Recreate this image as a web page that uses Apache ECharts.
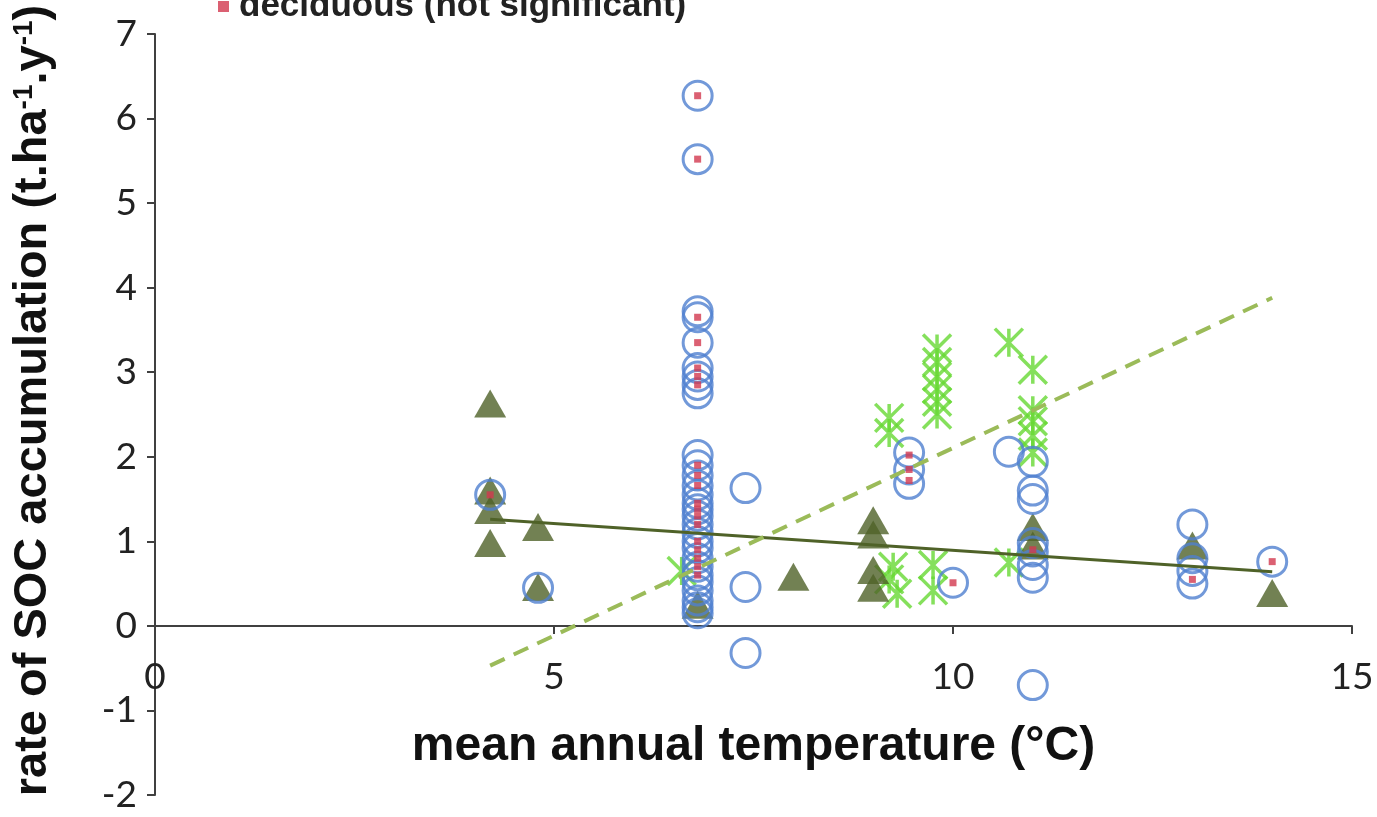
<!DOCTYPE html>
<html>
<head>
<meta charset="utf-8">
<script src="https://cdn.jsdelivr.net/npm/echarts@6/dist/echarts.min.js"></script>
<style>
html,body{margin:0;padding:0;background:#fff;}
#chart{width:1377px;height:817px;}
</style>
</head>
<body>
<div id="chart"></div>
<script>
// ---- data (x = mean annual temperature °C, y = rate of SOC accumulation) ----
var xTicks = [0, 5, 10, 15];
var yTicks = [-2, -1, 0, 1, 2, 3, 4, 5, 6, 7];

var allStands = [
  [4.2,1.55],[4.8,0.45],
  [6.8,6.27],[6.8,5.52],[6.8,3.72],[6.8,3.65],[6.8,3.35],[6.8,3.05],[6.8,2.95],[6.8,2.85],[6.8,2.75],
  [6.8,2.02],[6.8,1.9],[6.8,1.78],[6.8,1.66],[6.8,1.55],[6.8,1.45],[6.8,1.38],[6.8,1.3],[6.8,1.2],
  [6.8,1.1],[6.8,1.0],[6.8,0.92],[6.8,0.8],[6.8,0.7],[6.8,0.6],[6.8,0.52],[6.8,0.42],[6.8,0.3],
  [6.8,0.22],[6.8,0.15],
  [7.4,1.63],[7.4,0.46],[7.4,-0.32],
  [9.45,2.05],[9.45,1.85],[9.45,1.68],
  [10.0,0.51],
  [10.7,2.06],
  [11.0,1.94],[11.0,1.6],[11.0,1.5],[11.0,0.98],[11.0,0.88],[11.0,0.72],[11.0,0.57],[11.0,-0.7],
  [13.0,1.2],[13.0,0.8],[13.0,0.65],[13.0,0.5],
  [14.0,0.76]
];

var deciduous = [
  [4.2,1.55],
  [6.8,6.27],[6.8,5.52],[6.8,3.65],[6.8,3.35],[6.8,3.05],[6.8,2.95],[6.8,2.85],
  [6.8,1.9],[6.8,1.78],[6.8,1.66],[6.8,1.45],[6.8,1.38],[6.8,1.3],[6.8,1.2],[6.8,1.0],
  [6.8,0.9],[6.8,0.8],[6.8,0.7],[6.8,0.6],
  [9.45,2.02],[9.45,1.85],[9.45,1.72],
  [10.0,0.51],[11.0,0.9],[13.0,0.55],[14.0,0.76]
];

var triangles = [
  [4.2,2.63],[4.2,1.6],[4.2,1.37],[4.2,0.98],
  [4.8,1.17],[4.8,0.46],
  [6.8,0.25],[8.0,0.58],
  [9.0,1.25],[9.0,1.08],[9.0,0.66],[9.0,0.45],
  [11.0,1.17],[11.0,0.95],
  [13.0,0.95],[14.0,0.39]
];

var asterisks = [
  [6.6,0.65],
  [9.2,2.46],[9.2,2.28],[9.25,0.7],[9.2,0.55],[9.3,0.38],
  [9.8,3.28],[9.8,3.12],[9.8,2.95],[9.8,2.8],[9.8,2.65],[9.8,2.5],[9.75,0.72],[9.75,0.42],
  [10.7,3.35],[10.7,0.75],
  [11.0,3.03],[11.0,2.55],[11.0,2.42],[11.0,2.25],[11.0,2.05]
];

var trendTriangles = [[4.2,1.26],[14.0,0.64]];
var trendAsterisks = [[4.2,-0.47],[14.0,3.88]];

var legendLabel = 'deciduous (not significant)';

// ---- chart ----
var chart = echarts.init(document.getElementById('chart'), null, {renderer:'canvas'});
var axisColor = '#404040';
var yMin = yTicks[0], yMax = yTicks[yTicks.length-1];
var plotTop = 34, plotBottomPx = 795;
var unitPx = (plotBottomPx - plotTop) / (yMax - yMin);
var zeroPx = plotBottomPx - (0 - yMin) * unitPx;   // pixel row of y = 0 (for the label strip grid)

var option = {
  backgroundColor:'#ffffff',
  animation:false,
  legend:{
    data:[legendLabel], left:213, top:-16, icon:'rect', itemWidth:11, itemHeight:11,
    textStyle:{fontFamily:'Liberation Sans', fontWeight:'bold', fontSize:35, color:'#222', padding:[0,0,0,5]}
  },
  grid:[
    {left:155, right:25, top:plotTop, bottom:817-plotBottomPx, containLabel:false, outerBoundsMode:'none'},
    {left:155, right:25, top:plotTop, bottom:817-zeroPx, containLabel:false, outerBoundsMode:'none'}
  ],
  xAxis:[
    {
      gridIndex:0, type:'value', min:xTicks[0], max:xTicks[xTicks.length-1], interval:xTicks[1]-xTicks[0],
      axisLine:{show:false}, axisTick:{show:false}, axisLabel:{show:false}, splitLine:{show:false}
    },
    {
      gridIndex:1, type:'value', min:xTicks[0], max:xTicks[xTicks.length-1], interval:xTicks[1]-xTicks[0],
      axisLine:{show:true, onZero:false, lineStyle:{color:axisColor, width:2}},
      axisTick:{show:true, length:8, lineStyle:{color:axisColor, width:2}},
      axisLabel:{margin:33, fontFamily:'Lato', fontSize:37, color:'#222', showMinLabel:true, showMaxLabel:true},
      splitLine:{show:false},
      name:'mean annual temperature (°C)', nameLocation:'middle', nameGap:97,
      nameTextStyle:{fontFamily:'Liberation Sans', fontWeight:'bold', fontSize:48, color:'#111'}
    }
  ],
  yAxis:[
    {
      gridIndex:0, type:'value', min:yMin, max:yMax, interval:1,
      axisLine:{show:true, onZero:false, lineStyle:{color:axisColor, width:2}},
      axisTick:{show:true, length:8, lineStyle:{color:axisColor, width:2}},
      axisLabel:{margin:18, fontFamily:'Lato', fontSize:37, color:'#222'},
      splitLine:{show:false},
      name:'rate of SOC accumulation (t.ha{sup|-1}.y{sup|-1})', nameLocation:'middle', nameGap:98, nameRotate:90,
      nameTextStyle:{fontFamily:'Liberation Sans', fontWeight:'bold', fontSize:47, color:'#111', padding:[0,0,0,28],
        rich:{sup:{fontFamily:'Liberation Sans', fontWeight:'bold', fontSize:28, color:'#111', verticalAlign:'top'}}}
    },
    {
      gridIndex:1, type:'value', min:0, max:yMax, show:false
    }
  ],
  series:[
    {
      name:'asterisks', type:'scatter', data:asterisks, z:2,
      symbol:'path://M0,0L20,20M20,0L0,20M10,0L10,20', symbolSize:28,
      itemStyle:{color:'rgba(0,0,0,0)', borderColor:'#66d833', borderWidth:3.5}
    },
    {
      name:'triangles', type:'scatter', data:triangles, z:3,
      symbol:'triangle', symbolSize:[32,28],
      itemStyle:{color:'#4f6228'}
    },
    {
      name:'all stands', type:'scatter', data:allStands, z:4,
      symbol:'circle', symbolSize:29,
      itemStyle:{color:'rgba(255,255,255,0)', borderColor:'#4f7fcf', borderWidth:3}
    },
    {
      name:legendLabel, type:'scatter', data:deciduous, z:5,
      symbol:'rect', symbolSize:7,
      itemStyle:{color:'#d2384f'}
    },
    {
      name:'trend triangles', type:'line', data:trendTriangles, z:6, symbol:'none', silent:true,
      lineStyle:{color:'#4f6228', width:3}
    },
    {
      name:'trend asterisks', type:'line', data:trendAsterisks, z:6, symbol:'none', silent:true,
      lineStyle:{color:'#9bbb59', width:4, type:[16,10]}
    }
  ]
};
chart.setOption(option);
</script>
</body>
</html>
